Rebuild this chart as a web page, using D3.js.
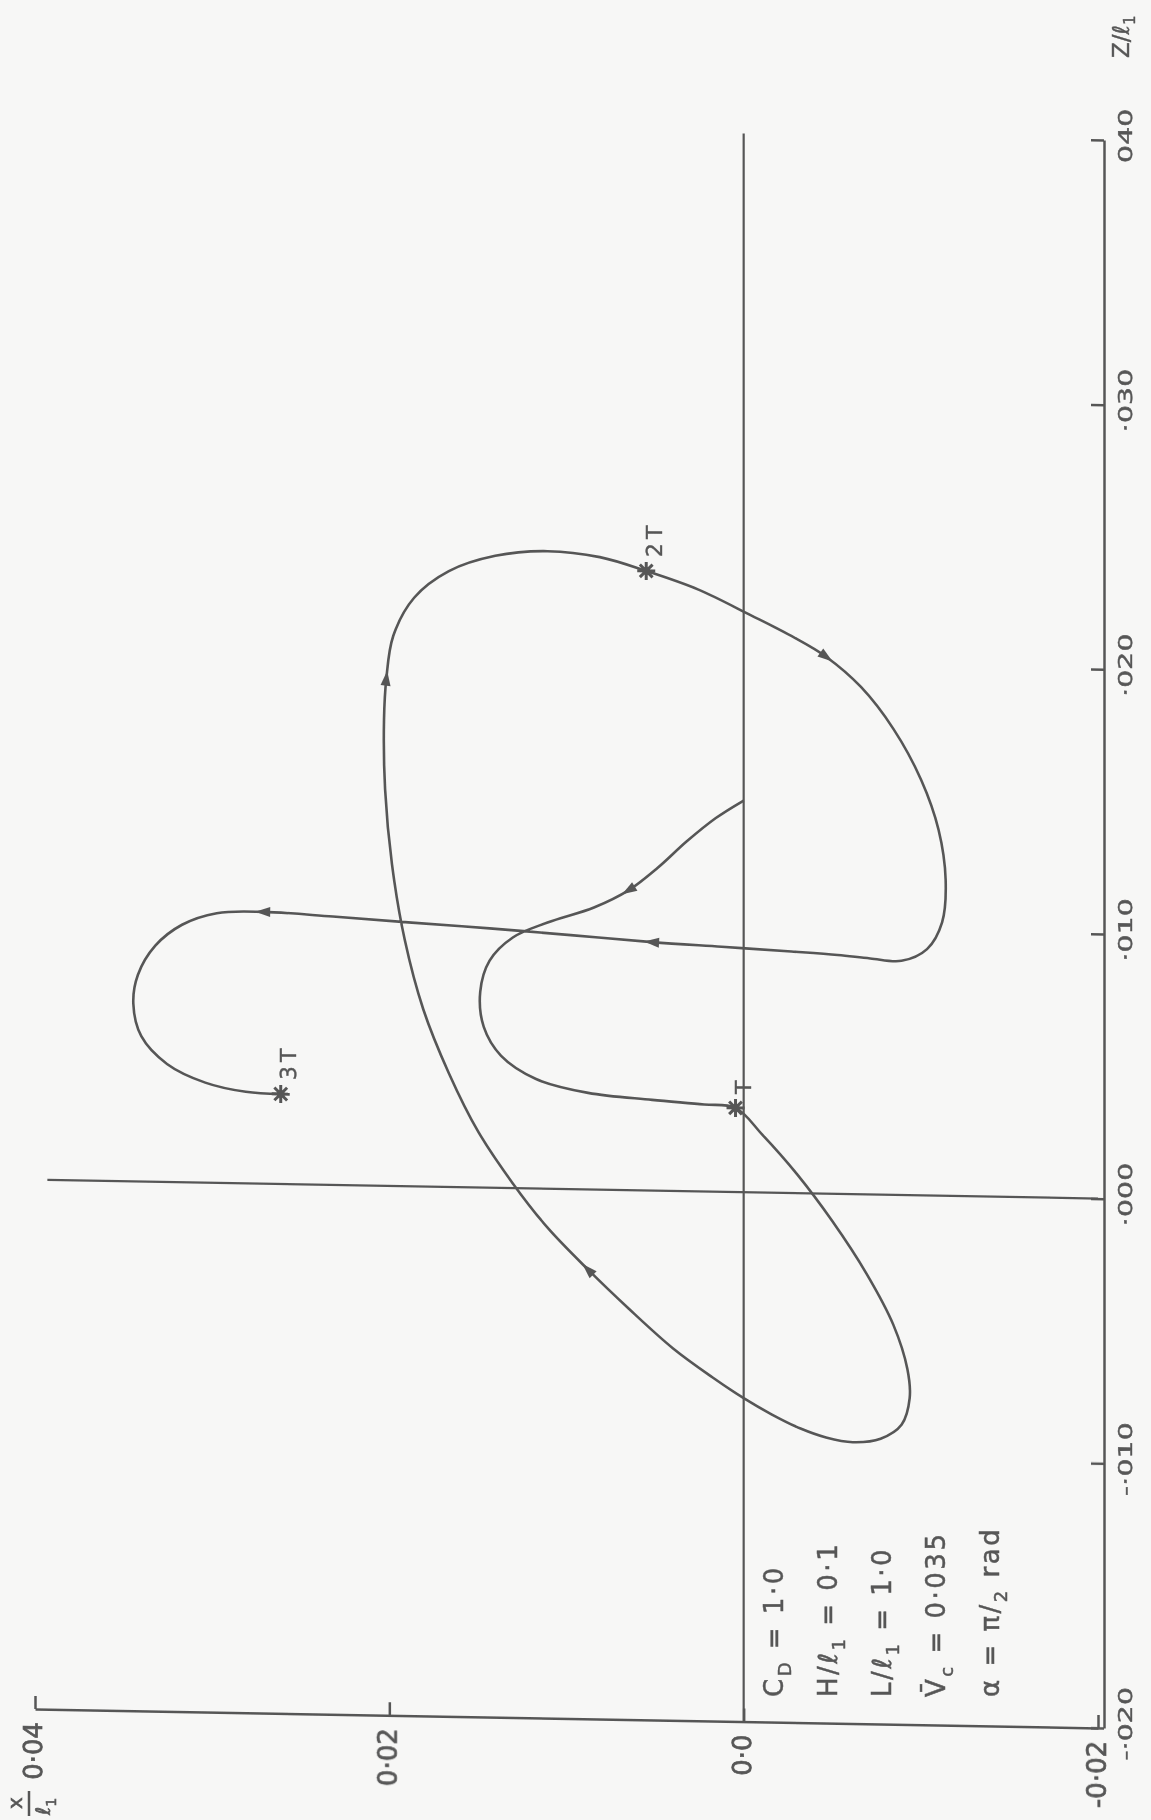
<!DOCTYPE html>
<html>
<head>
<meta charset="utf-8">
<script src="https://cdn.jsdelivr.net/npm/d3@7"></script>
<style>
  body { margin: 0; background: #f7f7f6; }
  svg { display: block; }
</style>
</head>
<body>
<svg id="chart" width="1151" height="1820"></svg>
<script>
// Trajectory of the body: lateral displacement x/ℓ1 and stream-wise position z/ℓ1
const pathX = [
  0.0000, 0.00157, 0.00321, 0.00485, 0.00648, 0.00845, 0.01107, 0.01303, 0.01434, 0.01487,
  0.01467, 0.01369, 0.01172, 0.00878, 0.00517, 0.00223, 0.00046, -0.00105, -0.00301, -0.00498,
  -0.00694, -0.00845, -0.00924, -0.00937, -0.00891, -0.00773, -0.00616, -0.00465, -0.00321, -0.00157,
  0.0000, 0.00177, 0.00400, 0.00648, 0.00878, 0.01107, 0.01303, 0.01500, 0.01664, 0.01808,
  0.01913, 0.01985, 0.02024, 0.02030, 0.02017, 0.01978, 0.01860, 0.01664, 0.01402, 0.01107,
  0.00812, 0.00550, 0.00255, -0.00039, -0.00269, -0.00465, -0.00662, -0.00845, -0.01002, -0.01100,
  -0.01140, -0.01120, -0.01035, -0.00891, -0.00714, -0.00531, -0.00269, 0.00124, 0.00517, 0.00976,
  0.01434, 0.01893, 0.02319, 0.02712, 0.02974, 0.03170, 0.03321, 0.03419, 0.03445, 0.03400,
  0.03255, 0.03039, 0.02810, 0.02613
];
const pathZ = [
  0.01480, 0.01412, 0.01322, 0.01220, 0.01134, 0.01066, 0.01006, 0.00947, 0.00858, 0.00739,
  0.00607, 0.00499, 0.00414, 0.00365, 0.00343, 0.00329, 0.00318, 0.00219, 0.00072, -0.00101,
  -0.00300, -0.00491, -0.00657, -0.00767, -0.00868, -0.00922, -0.00937, -0.00921, -0.00889, -0.00837,
  -0.00778, -0.00701, -0.00594, -0.00448, -0.00303, -0.00147, 0.00018, 0.00213, 0.00430, 0.00669,
  0.00931, 0.01215, 0.01499, 0.01762, 0.01916, 0.02078, 0.02224, 0.02327, 0.02388, 0.02409,
  0.02390, 0.02341, 0.02274, 0.02181, 0.02105, 0.02029, 0.01917, 0.01761, 0.01570, 0.01383,
  0.01195, 0.01033, 0.00931, 0.00885, 0.00892, 0.00903, 0.00913, 0.00926, 0.00939, 0.00960,
  0.00980, 0.00997, 0.01014, 0.01027, 0.01019, 0.00973, 0.00892, 0.00781, 0.00671, 0.00549,
  0.00446, 0.00378, 0.00346, 0.00340
];

// Positions reached after one, two and three periods
const periodIndex = [16, 51, 83];
const periodLabels = ["T", "2T", "3T"];

// Points along the path carrying a direction arrow
const arrowIndex = [4, 34, 44, 55, 68, 73];

// Axis ticks
const xTicks = [0.04, 0.02, 0.0, -0.02];
const xTickLabels = ["0·04", "0·02", "0·0", "-0·02"];
const zTicks = [0.04, 0.03, 0.02, 0.01, 0.0, -0.01, -0.02];
const zTickLabels = ["040", "·030", "·020", "·010", "·000", "-·010", "-·020"];

// Parameter block: [main text, subscript, remainder]
const paramLines = [
  ["C", "D", " = 1·0"],
  ["H/ℓ", "1", " = 0·1"],
  ["L/ℓ", "1", " = 1·0"],
  ["V\u0304", "c", " = 0·035"],
  ["α = π/", "2", " rad"]
];

const ink = "#575757";
const font = "DejaVu Sans, Liberation Sans, sans-serif";

const svg = d3.select("#chart");

// soft scan look
svg.append("defs").append("filter").attr("id", "soft")
  .append("feGaussianBlur").attr("stdDeviation", 0.45);

// lateral displacement runs left→right (0.04 … -0.02), stream-wise runs top→bottom
const x = d3.scaleLinear().domain([0.04, -0.02]).range([35, 1098]);
const z = d3.scaleLinear().domain([0.04, -0.02]).range([140, 1728]);
const axisRightX = 1104;

const root = svg.append("g").attr("filter", "url(#soft)");

// the plotting frame is drawn slightly sheared
const g = root.append("g")
  .attr("transform", `translate(${axisRightX},0) skewY(1.02) translate(${-axisRightX},0)`);

// reference lines x = 0 and z = 0
g.append("line")
  .attr("x1", x(0)).attr("x2", x(0))
  .attr("y1", z(0.04)).attr("y2", z(-0.02))
  .attr("stroke", ink).attr("stroke-width", 2.2);
g.append("line")
  .attr("x1", x(0.0393)).attr("x2", x(-0.02))
  .attr("y1", z(0)).attr("y2", z(0))
  .attr("stroke", ink).attr("stroke-width", 2.2);

// bottom axis (x/ℓ1)
const gx = g.append("g")
  .attr("transform", `translate(0,${z(-0.02)})`)
  .call(d3.axisBottom(x).tickValues(xTicks).tickSizeInner(-13).tickSizeOuter(0)
    .tickFormat((d, i) => xTickLabels[i]));
gx.select(".domain").attr("stroke", ink).attr("stroke-width", 2.5);
gx.selectAll(".tick line").attr("stroke", ink).attr("stroke-width", 2.5);
gx.selectAll(".tick text")
  .attr("x", null).attr("y", null).attr("dy", null)
  .attr("transform", "translate(-2,13) rotate(-90)")
  .attr("text-anchor", "end")
  .attr("dominant-baseline", "central")
  .attr("fill", ink).attr("stroke", ink).attr("stroke-width", 0.7)
  .style("font-family", font).style("font-size", "26px");

// right axis (z/ℓ1)
const gz = g.append("g")
  .attr("transform", `translate(${axisRightX},0)`)
  .call(d3.axisRight(z).tickValues(zTicks).tickSizeInner(-13).tickSizeOuter(0)
    .tickFormat((d, i) => zTickLabels[i]));
gz.select(".domain").attr("stroke", ink).attr("stroke-width", 2.5);
gz.selectAll(".tick line").attr("stroke", ink).attr("stroke-width", 2.5);
gz.selectAll(".tick text")
  .attr("x", null).attr("y", null).attr("dy", null)
  .attr("transform", "translate(22,-5) rotate(-90) scale(1.5,1)")
  .attr("text-anchor", "middle")
  .attr("dominant-baseline", "central")
  .attr("fill", ink).attr("stroke", ink).attr("stroke-width", 0.4)
  .style("font-family", font).style("font-size", "19px");

// trajectory
const idx = d3.range(pathX.length);
const line = d3.line()
  .x(i => x(pathX[i]))
  .y(i => z(pathZ[i]))
  .curve(d3.curveCatmullRom.alpha(0.5));
g.append("path")
  .attr("d", line(idx))
  .attr("fill", "none")
  .attr("stroke", ink)
  .attr("stroke-width", 2.6)
  .attr("stroke-linejoin", "round");

// direction arrows
g.selectAll(".arrow")
  .data(arrowIndex)
  .join("path")
  .attr("class", "arrow")
  .attr("d", "M8,0 L-7,-5 L-7,5 Z")
  .attr("fill", ink)
  .attr("transform", i => {
    const dx = x(pathX[i + 1]) - x(pathX[i - 1]);
    const dy = z(pathZ[i + 1]) - z(pathZ[i - 1]);
    const a = Math.atan2(dy, dx) * 180 / Math.PI;
    return `translate(${x(pathX[i])},${z(pathZ[i])}) rotate(${a})`;
  });

// period markers (asterisks) and their labels
const marks = g.selectAll(".mark")
  .data(periodIndex)
  .join("g")
  .attr("class", "mark")
  .attr("transform", i => `translate(${x(pathX[i])},${z(pathZ[i])})`);
marks.selectAll("line")
  .data([0, 45, 90, 135])
  .join("line")
  .attr("x1", a => -9 * Math.cos(a * Math.PI / 180))
  .attr("y1", a => -9 * Math.sin(a * Math.PI / 180))
  .attr("x2", a => 9 * Math.cos(a * Math.PI / 180))
  .attr("y2", a => 9 * Math.sin(a * Math.PI / 180))
  .attr("stroke", ink).attr("stroke-width", 3);
marks.append("circle").attr("r", 4).attr("fill", ink);
marks.append("text")
  .attr("transform", "translate(8,-14) rotate(-90)")
  .attr("dominant-baseline", "central")
  .attr("fill", ink).attr("stroke", ink).attr("stroke-width", 0.4)
  .style("font-family", font).style("font-size", "22px")
  .style("letter-spacing", "4px")
  .text((d, k) => periodLabels[k]);

// axis titles (upright page frame)
const zTitle = root.append("text")
  .attr("transform", `translate(${axisRightX + 17},58) rotate(-90)`)
  .attr("fill", ink).attr("stroke", ink).attr("stroke-width", 0.4)
  .style("font-family", font).style("font-size", "23px")
  .attr("dominant-baseline", "central");
zTitle.append("tspan").text("Z/ℓ");
zTitle.append("tspan").attr("dy", 9).style("font-size", "15px").text("1");

root.append("text")
  .attr("transform", "translate(15,1803) rotate(-90)")
  .attr("text-anchor", "middle").attr("dominant-baseline", "central")
  .attr("fill", ink).attr("stroke", ink).attr("stroke-width", 0.6)
  .style("font-family", font).style("font-size", "20px")
  .text("x");
root.append("line")
  .attr("x1", 29).attr("x2", 29).attr("y1", 1791).attr("y2", 1816)
  .attr("stroke", ink).attr("stroke-width", 2.5);
const xDen = root.append("text")
  .attr("transform", "translate(43,1815) rotate(-90)")
  .attr("dominant-baseline", "central")
  .attr("fill", ink).attr("stroke", ink).attr("stroke-width", 0.6)
  .style("font-family", font).style("font-size", "20px");
xDen.append("tspan").text("ℓ");
xDen.append("tspan").attr("dy", 8).style("font-size", "14px").text("1");

// parameter block
paramLines.forEach((p, k) => {
  const t = root.append("text")
    .attr("transform", `translate(${783 + 54 * k},1697) rotate(-90)`)
    .attr("fill", ink).attr("stroke", ink).attr("stroke-width", 0.5)
    .style("font-family", font).style("font-size", "26px")
    .style("letter-spacing", "2.5px");
  t.append("tspan").text(p[0]);
  t.append("tspan").attr("dy", 8).style("font-size", "18px").text(p[1]);
  t.append("tspan").attr("dy", -8).text(p[2]);
});
</script>
</body>
</html>
